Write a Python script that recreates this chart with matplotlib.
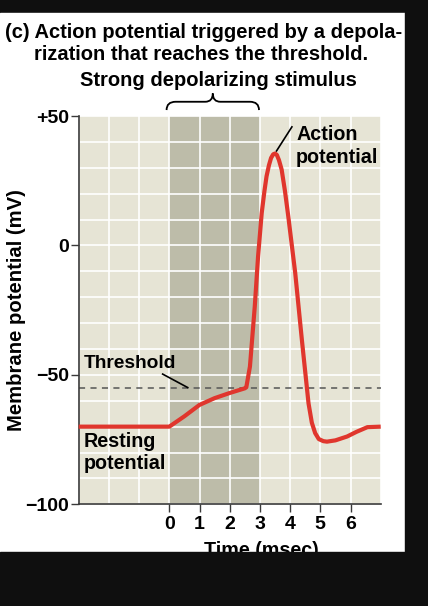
import matplotlib
matplotlib.use('Agg')
import matplotlib.pyplot as plt
import matplotlib.transforms as mtransforms
from matplotlib.patches import Rectangle, PathPatch
from matplotlib.path import Path
from matplotlib.ticker import MultipleLocator

plt.rcParams['font.family'] = ['Liberation Sans', 'DejaVu Sans']
plt.rcParams['font.weight'] = 'bold'

# ---- data ----
time_ms = [-3.0, 0.0, 0.5, 1.0, 1.5, 2.0, 2.5, 2.55, 2.67, 2.75, 2.83, 2.94,
           3.06, 3.15, 3.22, 3.3, 3.37, 3.44, 3.5, 3.56, 3.63, 3.72, 3.83, 3.94,
           4.17, 4.39, 4.61, 4.72, 4.83, 4.95, 5.1, 5.22, 5.5, 5.89, 6.2, 6.56, 7.0]
vm_mv = [-70, -70, -66, -61.6, -59, -57, -55.2, -54.8, -46.8, -35.2, -23.6, -4.2,
         12.5, 21, 26.7, 31, 33.8, 35.2, 35.5, 35, 33, 29.3, 21, 11.2,
         -10.7, -36.5, -61, -68.5, -72.5, -74.8, -75.6, -75.8, -75.3, -73.8, -72, -70.2, -70]
threshold = -55
stim_start, stim_end = 0, 3
yticks = [50, 0, -50, -100]
ytick_labels = ['+50', '0', '\u221250', '\u2212100']
xticks = [0, 1, 2, 3, 4, 5, 6]

C_PANEL = '#e6e4d5'
C_STIM = '#bdbca9'
C_RED = '#e0362d'
C_AX = '#3a3a3a'
C_BLACK = '#0f0f0f'
FS = 14.2

W, H = 428, 606
fig = plt.figure(figsize=(W / 100, H / 100), dpi=100, facecolor=C_BLACK)
fig.add_artist(Rectangle((0, 1 - 552 / H), 405 / W, (552 - 13) / H,
                         transform=fig.transFigure, color='white', zorder=-1))

ax = fig.add_axes([78.7 / W, 1 - 504.3 / H, 302 / W, 388.3 / H])
ax.set_facecolor(C_PANEL)
ax.set_xlim(-3, 7)
ax.set_ylim(-100, 50)

ax.axvspan(stim_start, stim_end, color=C_STIM, lw=0, zorder=0.2)
ax.xaxis.set_minor_locator(MultipleLocator(1))
ax.yaxis.set_minor_locator(MultipleLocator(10))
ax.set_axisbelow(True)
ax.grid(True, which='both', color='white', lw=1.2, zorder=0.5)

ax.axhline(threshold, color='#555555', lw=1.1, dashes=(4, 3.5), zorder=2)
ax.plot(time_ms, vm_mv, color=C_RED, lw=3.0, solid_joinstyle='round',
        solid_capstyle='butt', zorder=3, clip_on=False)

for side in ['top', 'right']:
    ax.spines[side].set_visible(False)
for side in ['left', 'bottom']:
    ax.spines[side].set_color(C_AX)
    ax.spines[side].set_linewidth(1.2)

ax.set_xticks(xticks)
ax.set_yticks(yticks)
ax.set_yticklabels(ytick_labels)
ax.tick_params(which='minor', length=0)
ax.tick_params(axis='x', which='major', length=5.5, width=1, color=C_AX, pad=3.0, labelsize=14)
ax.tick_params(axis='y', which='major', length=5.5, width=1, color=C_AX, pad=1.5, labelsize=14)
for lab in ax.get_xticklabels() + ax.get_yticklabels():
    lab.set_fontweight('bold')

# axis labels
ax.text(-0.205, 0.5, 'Membrane potential (mV)', transform=ax.transAxes, rotation=90,
        ha='center', va='center', fontsize=14.6, fontweight='bold')
blend = mtransforms.blended_transform_factory(ax.transData, ax.transAxes)
ax.text(3.05, -0.095, 'Time (msec)', transform=blend, ha='center', va='top',
        fontsize=FS, fontweight='bold', clip_on=False)

# annotations
ax.text(-2.83, -47.2, 'Threshold', ha='left', va='baseline', fontsize=13.8, fontweight='bold')
ax.plot([-0.22, 0.61], [-49.7, -54.9], color='black', lw=1.2, zorder=4)
ax.text(-2.83, -78.0, 'Resting', ha='left', va='baseline', fontsize=FS, fontweight='bold')
ax.text(-2.83, -86.5, 'potential', ha='left', va='baseline', fontsize=FS, fontweight='bold')
ax.text(4.2, 40.9, 'Action', ha='left', va='baseline', fontsize=FS, fontweight='bold', clip_on=False)
ax.text(4.2, 31.9, 'potential', ha='left', va='baseline', fontsize=FS, fontweight='bold', clip_on=False)
ax.plot([3.55, 4.06], [36.5, 45.8], color='black', lw=1.2, zorder=4)

# brace over the stimulus
b0, b1 = stim_start - 0.09, stim_end - 0.03
bm = (b0 + b1) / 2
yb, yh, yt = 52.3, 55.5, 58.7
verts = [(b0, yb), (b0, yh), (b0 + 0.3, yh), (bm - 0.25, yh), (bm, yh), (bm, yt),
         (bm, yh), (bm + 0.25, yh), (b1 - 0.3, yh), (b1, yh), (b1, yb)]
codes = [Path.MOVETO, Path.CURVE3, Path.CURVE3, Path.LINETO, Path.CURVE3, Path.CURVE3,
         Path.CURVE3, Path.CURVE3, Path.LINETO, Path.CURVE3, Path.CURVE3]
ax.add_patch(PathPatch(Path(verts, codes), fill=False, edgecolor='black', lw=1.3,
                       clip_on=False, zorder=4))
ax.text(1.63, 61.7, 'Strong depolarizing stimulus', ha='center', va='baseline',
        fontsize=14.5, fontweight='bold', clip_on=False)

# title
fig.text(203.5 / W, 1 - 38.5 / H, '(c) Action potential triggered by a depola-',
         ha='center', va='baseline', fontsize=14.5, fontweight='bold')
fig.text(201.5 / W, 1 - 60 / H, 'rization that reaches the threshold.',
         ha='center', va='baseline', fontsize=14.5, fontweight='bold')

# black band at the bottom cuts the x label like the reference
fig.add_artist(Rectangle((0, 0), 1, 1 - 552 / H, transform=fig.transFigure,
                         color=C_BLACK, zorder=10))
fig.add_artist(Rectangle((405 / W, 0), 1 - 405 / W, 1, transform=fig.transFigure,
                         color=C_BLACK, zorder=10))

fig.savefig('out.png', dpi=100, facecolor=C_BLACK)
